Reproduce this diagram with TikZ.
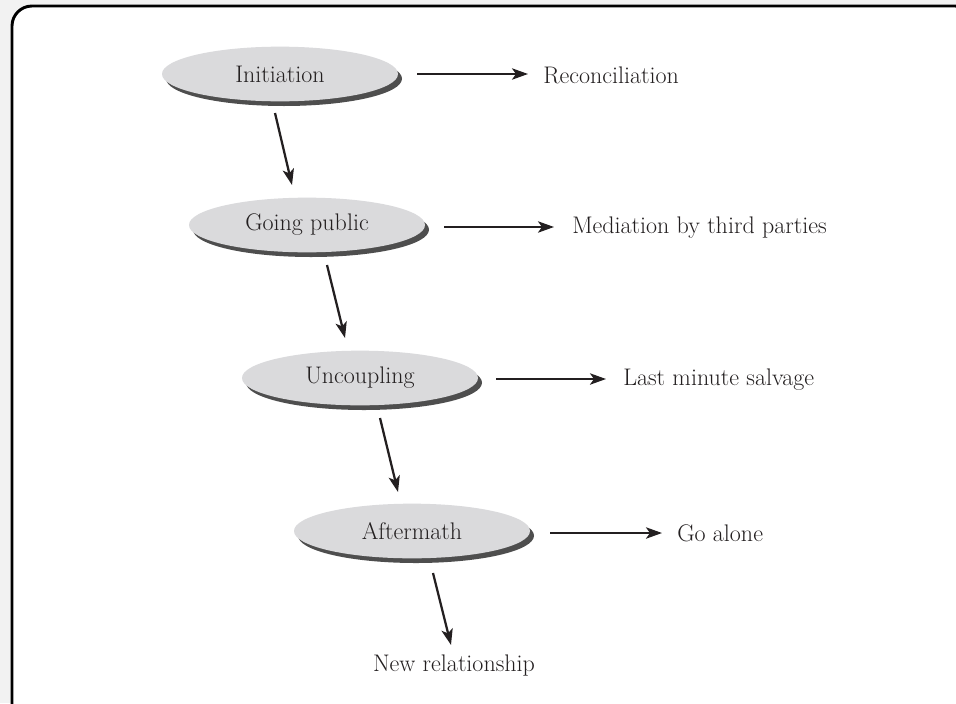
\documentclass[tikz,border=0pt]{standalone}
\usetikzlibrary{arrows.meta,shapes.geometric,shadows}
\definecolor{stagefill}{HTML}{DADADC}
\definecolor{stageshade}{HTML}{4E4E4E}
\definecolor{outerbg}{HTML}{F2F2F2}
\definecolor{ink}{HTML}{231F20}
\begin{document}
\begin{tikzpicture}[x=0.75pt,y=-0.75pt,
  every node/.style={font=\fontsize{18}{21}\selectfont, text=ink},
  stage/.style={ellipse, fill=stagefill, minimum width=177pt, minimum height=41pt, inner sep=0pt,
    drop shadow={shadow xshift=3pt, shadow yshift=-3.5pt, fill=stageshade, opacity=1}},
  outcome/.style={anchor=west, inner sep=0pt},
  flow/.style={line width=1.7pt, ink, -{Stealth[length=12pt,width=8.5pt,inset=3pt]}}
]
% page area and framing border
\useasboundingbox (0,0) rectangle (956,703);
\fill[outerbg] (0,0) rectangle (956,703);
\begin{scope}
  \clip (0,0) rectangle (956,703);
  \draw[line width=2.2pt, fill=white, rounded corners=15pt] (12,6) rectangle (975,725);
\end{scope}

% stages
\node[stage] (init) at (280,74) {Initiation};
\node[stage] (pub)  at (307,225) {Going public};
\node[stage] (unc)  at (360,378) {Uncoupling};
\node[stage] (aft)  at (412,531) {Aftermath};

% outcomes
\node[outcome] (rec) at (543,75) {Reconciliation};
\node[outcome] (med) at (572,228) {Mediation by third parties};
\node[outcome] (sal) at (623,380) {Last minute salvage};
\node[outcome] (alo) at (677,533) {Go alone};
\node (new) at (454,666) {New relationship};

% arrow end points
\coordinate (a1s) at (275,113); \coordinate (a1e) at (292,185);
\coordinate (a2s) at (327,265); \coordinate (a2e) at (345,338);
\coordinate (a3s) at (380,418); \coordinate (a3e) at (398,492);
\coordinate (a4s) at (433,573); \coordinate (a4e) at (451,645);
\coordinate (h1s) at (417,74);  \coordinate (h1e) at (528,74);
\coordinate (h2s) at (444,227); \coordinate (h2e) at (554,227);
\coordinate (h3s) at (496,379); \coordinate (h3e) at (606,379);
\coordinate (h4s) at (550,533); \coordinate (h4e) at (662,533);

% progression between stages
\draw[flow] (a1s) -- (a1e);
\draw[flow] (a2s) -- (a2e);
\draw[flow] (a3s) -- (a3e);
\draw[flow] (a4s) -- (a4e);

% exits from each stage
\draw[flow] (h1s) -- (h1e);
\draw[flow] (h2s) -- (h2e);
\draw[flow] (h3s) -- (h3e);
\draw[flow] (h4s) -- (h4e);
\end{tikzpicture}
\end{document}
